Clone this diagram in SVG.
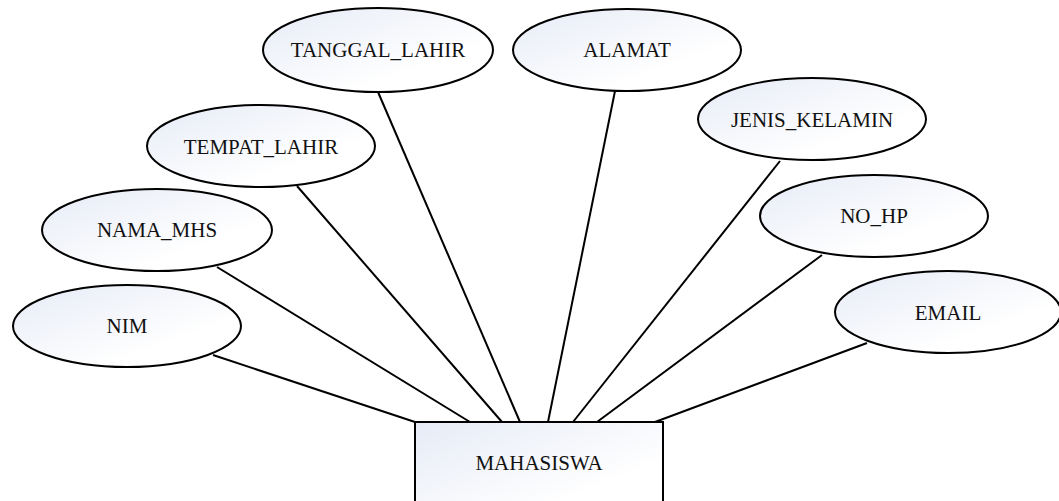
<svg xmlns="http://www.w3.org/2000/svg" width="1059" height="501" viewBox="0 0 1059 501">
<defs>
<linearGradient id="g" x1="0" y1="0" x2="1" y2="1">
<stop offset="0" stop-color="#e6ebf6"/>
<stop offset="0.7" stop-color="#ffffff"/>
<stop offset="1" stop-color="#ffffff"/>
</linearGradient>
<style>
.n{fill:url(#g);stroke:#000;stroke-width:2}
.t{font-family:'Liberation Serif','DejaVu Serif',serif;font-size:21px;fill:#111;text-anchor:middle}
.c line{stroke:#000;stroke-width:2}
</style>
</defs>
<rect width="1059" height="501" fill="#fff"/>
<g id="connectors" class="c">
<line x1="213" y1="355" x2="415" y2="422"/>
<line x1="217" y1="267" x2="470" y2="422"/>
<line x1="297" y1="186" x2="502" y2="422"/>
<line x1="378" y1="92" x2="520" y2="422"/>
<line x1="615" y1="91" x2="548" y2="422"/>
<line x1="780" y1="161" x2="573" y2="422"/>
<line x1="822" y1="255" x2="597" y2="422"/>
<line x1="867" y1="343" x2="655" y2="422"/>
</g>
<g id="MAHASISWA"><rect class="n" x="415" y="422" width="248" height="100"/><text class="t" font-family="Liberation Serif, serif" x="539" y="470">MAHASISWA</text></g>
<g id="NIM"><ellipse class="n" cx="127" cy="326" rx="114" ry="41"/><text class="t" font-family="Liberation Serif, serif" x="127" y="333">NIM</text></g>
<g id="NAMA_MHS"><ellipse class="n" cx="157" cy="230" rx="115" ry="41"/><text class="t" font-family="Liberation Serif, serif" x="157" y="237">NAMA_MHS</text></g>
<g id="TEMPAT_LAHIR"><ellipse class="n" cx="261" cy="146" rx="114" ry="41"/><text class="t" font-family="Liberation Serif, serif" x="261" y="154">TEMPAT_LAHIR</text></g>
<g id="TANGGAL_LAHIR"><ellipse class="n" cx="378" cy="50" rx="115" ry="42"/><text class="t" font-family="Liberation Serif, serif" x="378" y="57">TANGGAL_LAHIR</text></g>
<g id="ALAMAT"><ellipse class="n" cx="627" cy="50" rx="114" ry="41"/><text class="t" font-family="Liberation Serif, serif" x="627" y="57">ALAMAT</text></g>
<g id="JENIS_KELAMIN"><ellipse class="n" cx="812" cy="119" rx="114" ry="41"/><text class="t" font-family="Liberation Serif, serif" x="812" y="127">JENIS_KELAMIN</text></g>
<g id="NO_HP"><ellipse class="n" cx="874" cy="216" rx="114" ry="41"/><text class="t" font-family="Liberation Serif, serif" x="874" y="223">NO_HP</text></g>
<g id="EMAIL"><ellipse class="n" cx="948" cy="312" rx="113" ry="41"/><text class="t" font-family="Liberation Serif, serif" x="948" y="320">EMAIL</text></g>
</svg>
